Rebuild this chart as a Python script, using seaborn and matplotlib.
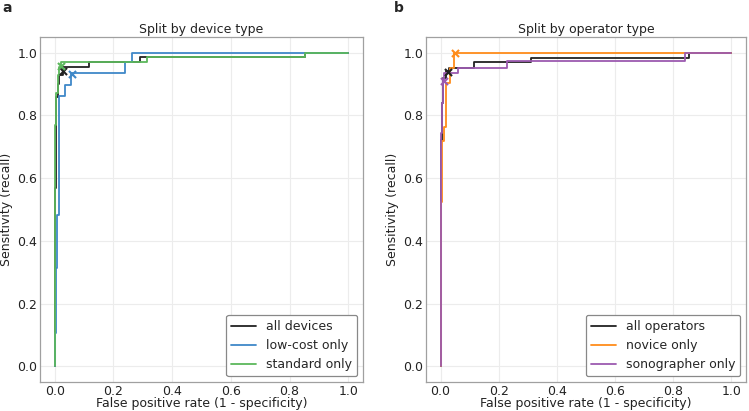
import matplotlib
matplotlib.use("Agg")
import matplotlib.pyplot as plt
import seaborn as sns

# ---------------- data: panel a (split by device type) ----------------
dev_names = ["all devices", "low-cost only", "standard only"]
dev_colors = ["#222222", "#3f88c8", "#5cb85c"]

all_dev_fpr = [0.0, 0.0, 0.003, 0.003, 0.006, 0.006, 0.010, 0.010, 0.015, 0.015,
               0.028, 0.028, 0.117, 0.117, 0.290, 0.290, 0.853, 0.853, 1.0]
all_dev_tpr = [0.0, 0.57, 0.57, 0.72, 0.72, 0.86, 0.86, 0.90, 0.90, 0.93,
               0.93, 0.954, 0.954, 0.969, 0.969, 0.985, 0.985, 1.0, 1.0]

lowcost_fpr = [0.0, 0.0, 0.003, 0.003, 0.008, 0.008, 0.014, 0.014, 0.034, 0.034,
               0.057, 0.057, 0.239, 0.239, 0.262, 0.262, 1.0]
lowcost_tpr = [0.0, 0.105, 0.105, 0.313, 0.313, 0.482, 0.482, 0.863, 0.863, 0.898,
               0.898, 0.935, 0.935, 0.969, 0.969, 1.0, 1.0]

standard_fpr = [0.0, 0.0, 0.005, 0.005, 0.010, 0.010, 0.015, 0.015, 0.023, 0.023,
                0.313, 0.313, 0.853, 0.853, 1.0]
standard_tpr = [0.0, 0.77, 0.77, 0.87, 0.87, 0.93, 0.93, 0.955, 0.955, 0.969,
                0.969, 0.985, 0.985, 1.0, 1.0]

dev_op_fpr = [0.028, 0.058, 0.023]
dev_op_tpr = [0.940, 0.932, 0.958]

# ---------------- data: panel b (split by operator type) ----------------
op_names = ["all operators", "novice only", "sonographer only"]
op_colors = ["#222222", "#ff8c1a", "#9c5bb0"]

all_op_fpr = [0.0, 0.0, 0.003, 0.003, 0.006, 0.006, 0.010, 0.010, 0.020, 0.020,
              0.030, 0.030, 0.115, 0.115, 0.310, 0.310, 0.855, 0.855, 1.0]
all_op_tpr = [0.0, 0.58, 0.58, 0.72, 0.72, 0.84, 0.84, 0.92, 0.92, 0.94,
              0.94, 0.951, 0.951, 0.969, 0.969, 0.983, 0.983, 1.0, 1.0]

novice_fpr = [0.0, 0.0, 0.005, 0.005, 0.012, 0.012, 0.020, 0.020, 0.033, 0.033,
              0.045, 0.045, 1.0]
novice_tpr = [0.0, 0.525, 0.525, 0.717, 0.717, 0.763, 0.763, 0.903, 0.903, 0.951,
              0.951, 1.0, 1.0]

sono_fpr = [0.0, 0.0, 0.004, 0.004, 0.008, 0.008, 0.012, 0.012, 0.060, 0.060,
            0.230, 0.230, 0.840, 0.840, 1.0]
sono_tpr = [0.0, 0.745, 0.745, 0.84, 0.84, 0.91, 0.91, 0.935, 0.935, 0.951,
            0.951, 0.975, 0.975, 1.0, 1.0]

op_op_fpr = [0.025, 0.048, 0.011]
op_op_tpr = [0.938, 1.0, 0.910]

ticks = [0.0, 0.2, 0.4, 0.6, 0.8, 1.0]
tick_labels = ["0.0", "0.2", "0.4", "0.6", "0.8", "1.0"]

# ---------------- figure ----------------
sns.set_theme(style="whitegrid")
plt.rcParams["font.family"] = ["DejaVu Sans"]
W, H = 749, 411
fig = plt.figure(figsize=(W / 100, H / 100), dpi=100)
ax1 = fig.add_axes([40 / W, 29 / H, 323 / W, 345 / H])
ax2 = fig.add_axes([426 / W, 29 / H, 320 / W, 345 / H])


def draw(ax, curves, names, colors, op_x, op_y, title, panel):
    for (fx, ty), name, col in zip(curves, names, colors):
        sns.lineplot(x=fx, y=ty, sort=False, estimator=None, color=col,
                     linewidth=1.3, label=name, ax=ax)
    for i, col in enumerate(colors):
        sns.scatterplot(x=[op_x[i]], y=[op_y[i]], marker="x", s=26,
                        color=col, linewidth=1.5, ax=ax, zorder=5)
    ax.set_xlim(-0.05, 1.05)
    ax.set_ylim(-0.05, 1.05)
    ax.set_xticks(ticks)
    ax.set_xticklabels(tick_labels)
    ax.set_yticks(ticks)
    ax.set_yticklabels(tick_labels)
    ax.tick_params(labelsize=9, length=0, pad=2.0, colors="#222222")
    ax.grid(True, color="#ececec", linewidth=0.8)
    for sp in ax.spines.values():
        sp.set_color("#a0a0a0")
        sp.set_linewidth(0.9)
    ax.set_xlabel("False positive rate (1 - specificity)", fontsize=9,
                  labelpad=-0.8, color="#222222")
    ax.set_ylabel("Sensitivity (recall)", fontsize=9, labelpad=3, color="#222222")
    ax.set_title(title, fontsize=9, pad=3, color="#222222")
    leg = ax.legend(loc="lower right", fontsize=9, frameon=True, framealpha=1,
                    edgecolor="#888888", fancybox=True, borderaxespad=0.45)
    leg.get_frame().set_linewidth(0.9)
    ax.text(-0.115 if panel == "a" else -0.1, 1.105, panel, transform=ax.transAxes,
            fontsize=10, fontweight="bold", va="top", ha="left")


draw(ax1, [(all_dev_fpr, all_dev_tpr), (lowcost_fpr, lowcost_tpr),
           (standard_fpr, standard_tpr)],
     dev_names, dev_colors, dev_op_fpr, dev_op_tpr, "Split by device type", "a")
draw(ax2, [(all_op_fpr, all_op_tpr), (novice_fpr, novice_tpr),
           (sono_fpr, sono_tpr)],
     op_names, op_colors, op_op_fpr, op_op_tpr, "Split by operator type", "b")

fig.savefig("out.png", dpi=100)
